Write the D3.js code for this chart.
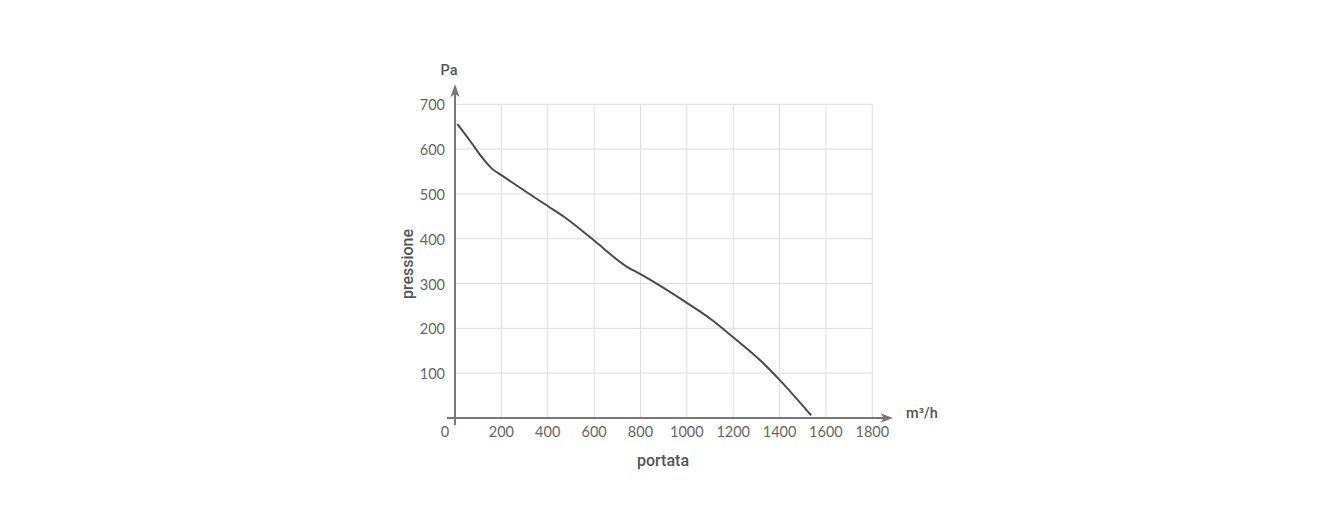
<!DOCTYPE html>
<html><head><meta charset="utf-8">
<script src="https://cdn.jsdelivr.net/npm/d3@7"></script>
<style>
html,body{margin:0;padding:0;background:#fff;}
text{font-family:Lato,"Open Sans",sans-serif;}
</style></head>
<body>
<svg id="chart" width="1338" height="530"></svg>
<script>
const xTicks = [0,200,400,600,800,1000,1200,1400,1600,1800];
const yTicks = [100,200,300,400,500,600,700];
const flow = [10,60,122,158,200,300,400,470,600,740,800,1000,1100,1200,1314,1400,1536];
const pressure = [656,622,578,557,542,507,473,449,396,338,321,257,222,180,130,85,6];

const svg = d3.select("#chart");
const x = d3.scaleLinear().domain([0,1800]).range([455,872.3]);
const y = d3.scaleLinear().domain([0,700]).range([418,104.3]);
const axisCol = "#777";
const textCol = "#666";

// grid
const g = svg.append("g");
g.selectAll("line.v").data(xTicks.slice(1)).join("line")
  .attr("x1",d=>x(d)).attr("x2",d=>x(d)).attr("y1",y(0)).attr("y2",y(700))
  .attr("stroke","#dedede").attr("stroke-width",1);
g.selectAll("line.h").data(yTicks).join("line")
  .attr("x1",x(0)).attr("x2",x(1800)).attr("y1",d=>y(d)).attr("y2",d=>y(d))
  .attr("stroke","#dedede").attr("stroke-width",1);

// axes
svg.append("line").attr("x1",447).attr("x2",886).attr("y1",y(0)).attr("y2",y(0))
  .attr("stroke",axisCol).attr("stroke-width",2);
svg.append("path").attr("d",`M893,${y(0)} L881,${y(0)-4.5} L883.5,${y(0)} L881,${y(0)+4.5} Z`).attr("fill",axisCol);
svg.append("line").attr("x1",x(0)).attr("x2",x(0)).attr("y1",425).attr("y2",91)
  .attr("stroke",axisCol).attr("stroke-width",2);
svg.append("path").attr("d",`M${x(0)},84 L${x(0)-4.5},97 L${x(0)},94 L${x(0)+4.5},97 Z`).attr("fill",axisCol);

// tick labels
svg.selectAll("text.yt").data(yTicks).join("text")
  .attr("x",445).attr("y",d=>y(d)+1).attr("dy","0.35em").attr("text-anchor","end")
  .attr("font-size",14.5).attr("fill",textCol).text(d=>d);
svg.selectAll("text.xt").data(xTicks).join("text")
  .attr("x",d=>d===0?445:x(d)).attr("y",432).attr("dy","0.35em").attr("text-anchor","middle")
  .attr("font-size",14.5).attr("fill",textCol).text(d=>d);

// axis titles
const tf = "Roboto,sans-serif";
svg.append("text").attr("x",449).attr("y",70).attr("dy","0.35em").attr("text-anchor","middle")
  .style("font-family",tf).attr("font-weight",500).attr("font-size",14.5).attr("fill","#555").text("Pa");
svg.append("text").attr("x",906).attr("y",413).attr("dy","0.35em")
  .style("font-family",tf).attr("font-weight",500).attr("font-size",14.5).attr("fill","#555").text("m³/h");
svg.append("text").attr("transform","translate(407,264) rotate(-90)").attr("dy","0.35em")
  .attr("text-anchor","middle").style("font-family",tf).attr("font-size",16).attr("font-weight",500).attr("fill","#555").text("pressione");
svg.append("text").attr("x",663).attr("y",460).attr("dy","0.35em").attr("text-anchor","middle")
  .style("font-family",tf).attr("font-size",16).attr("font-weight",500).attr("fill","#555").text("portata");

// curve
const pts = flow.map((f,i)=>[f,pressure[i]]);
svg.append("path").datum(pts)
  .attr("d",d3.line().x(d=>x(d[0])).y(d=>y(d[1])).curve(d3.curveMonotoneX))
  .attr("fill","none").attr("stroke","#4a4a4a").attr("stroke-width",2);
</script>
</body></html>
